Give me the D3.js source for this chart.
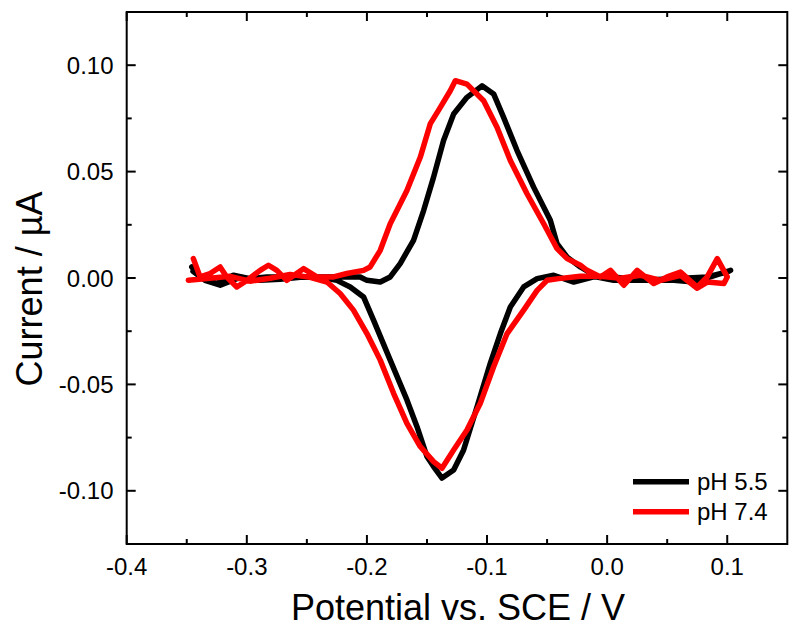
<!DOCTYPE html>
<html>
<head>
<meta charset="utf-8">
<script src="https://cdn.jsdelivr.net/npm/d3@7"></script>
<style>
  html, body { margin: 0; padding: 0; background: #fff; }
  svg text { font-family: "Liberation Sans", Arial, sans-serif; fill: #000; }
</style>
</head>
<body>
<svg id="chart" width="800" height="631"></svg>
<script>
// ---- Data (potential in V vs. SCE, current in µA) ----
const seriesNames = ["pH 5.5", "pH 7.4"];
const seriesColors = ["#000000", "#ff0000"];

const ph55Potential = [
  -0.3458, -0.3389, -0.325, -0.3112, -0.2973, -0.2833, -0.2556, -0.2278, -0.2056, -0.2, -0.1889, -0.1806,
  -0.1723, -0.1612, -0.1528, -0.1445, -0.1362, -0.1278, -0.1167, -0.1042, -0.0945, -0.0862, -0.075,
  -0.0612, -0.0473, -0.0417, -0.0333, -0.0223, -0.0083, 0.0055, 0.0278, 0.0555, 0.0722, 0.0944, 0.1028,
  0.1, 0.0833, 0.0555, 0.0278, 0.0055, -0.0112, -0.0278, -0.0445, -0.0583, -0.0695, -0.0806, -0.0889,
  -0.0973, -0.1083, -0.1195, -0.1278, -0.1375, -0.1445, -0.15, -0.1583, -0.1667, -0.1806, -0.1945,
  -0.2028, -0.2139, -0.225, -0.239, -0.2556, -0.2723, -0.289, -0.3056, -0.3222, -0.3348, -0.3448
];
const ph55Current = [
  0.0052, 0.0005, -0.0026, 0.0013, -0.0003, 0.0005, 0.0005, 0.0005, 0.0005, -0.0011, -0.0019, 0.0005,
  0.0068, 0.0177, 0.0317, 0.0474, 0.0646, 0.0771, 0.0849, 0.0903, 0.0865, 0.0755, 0.0599,
  0.0427, 0.0271, 0.0161, 0.0098, 0.0052, 0.0005, -0.0011, -0.0011, -0.0011, -0.0019, 0.0021, 0.0036,
  0.0028, 0.0005, -0.0003, -0.0011, 0.0005, 0.0005, -0.0019, 0.0013, -0.0003, -0.0042, -0.0136, -0.0261,
  -0.0401, -0.0605, -0.0808, -0.0902, -0.094, -0.0886, -0.0839, -0.0699, -0.0573, -0.0386, -0.0198,
  -0.0089, -0.0042, -0.0011, 0.0003, 0.0003, -0.0006, -0.0011, 0.0003, -0.0034, -0.0011, 0.0031
];

const ph74Potential = [
  -0.3445, -0.3389, -0.3306, -0.3222, -0.3167, -0.3083, -0.3, -0.2889, -0.282, -0.275, -0.2667, -0.2528,
  -0.2417, -0.2278, -0.2167, -0.2028, -0.1973, -0.1889, -0.1806, -0.1667, -0.1556, -0.1473, -0.1389,
  -0.1306, -0.1264, -0.1167, -0.1028, -0.0917, -0.0806, -0.0667, -0.0528, -0.0417, -0.0333, -0.0223,
  -0.0167, -0.0056, 0.0028, 0.0139, 0.025, 0.0388, 0.05, 0.0611, 0.075, 0.0833, 0.0917, 0.1,
  0.0972, 0.0833, 0.075, 0.0611, 0.0444, 0.0278, 0.0111, -0.0056, -0.0223, -0.0403, -0.05, -0.0583,
  -0.0695, -0.0833, -0.0945, -0.1056, -0.1167, -0.1278, -0.1375, -0.1445, -0.1556, -0.1667, -0.1778,
  -0.1889, -0.2, -0.2112, -0.2223, -0.2333, -0.2473, -0.264, -0.2806, -0.2973, -0.314, -0.3306, -0.3487
];
const ph74Current = [
  0.0091, 0.0005, 0.0021, 0.0052, 0.0005, -0.0042, -0.0011, 0.0036, 0.006, 0.0036, -0.0011, 0.0044,
  0.0005, 0.0005, 0.0021, 0.0036, 0.0052, 0.013, 0.0255, 0.0411, 0.0567, 0.0724, 0.0802,
  0.088, 0.0927, 0.0911, 0.0833, 0.0708, 0.0552, 0.0396, 0.0255, 0.0138, 0.0091, 0.006,
  0.0036, 0.0005, 0.0036, -0.0034, 0.0036, -0.0026, 0.0005, 0.0028, -0.0042, 0.0005, 0.0091, 0.0005,
  -0.0026, -0.0019, -0.0048, 0.0013, -0.0011, 0.0013, -0.0001, 0.0008, 0.0008, -0.0003, -0.0011, -0.0058,
  -0.0151, -0.0261, -0.0417, -0.0589, -0.0714, -0.0808, -0.0894, -0.0863, -0.0792, -0.0683, -0.0542,
  -0.0386, -0.0261, -0.0151, -0.0073, -0.0019, 0.0003, 0.0017, -0.0001, -0.0015, 0.0008, -0.0001, -0.0011
];

const xMajorTicks = [-0.4, -0.3, -0.2, -0.1, 0.0, 0.1];
const xMinorTicks = [-0.35, -0.25, -0.15, -0.05, 0.05];
const yMajorTicks = [-0.10, -0.05, 0.00, 0.05, 0.10];
const yMinorTicks = [-0.125, -0.075, -0.025, 0.025, 0.075, 0.125];
const xTitle = "Potential vs. SCE / V";
const yTitle = "Current / \u00b5A";

// ---- Layout ----
const svg = d3.select("#chart");
const L = 126.7, R = 787.3, T = 12, B = 544;
const x = d3.scaleLinear().domain([-0.4, 0.15]).range([L, R]);
const y = d3.scaleLinear().domain([-0.125, 0.125]).range([B, T]);

const majorLen = 9, minorLen = 5;

// Frame
svg.append("rect")
  .attr("x", L).attr("y", T).attr("width", R - L).attr("height", B - T)
  .attr("fill", "none").attr("stroke", "#000").attr("stroke-width", 2);

// Ticks (inward on all four sides)
const tickG = svg.append("g").attr("stroke", "#000").attr("stroke-width", 2);
function xTick(v, len) {
  tickG.append("line").attr("x1", x(v)).attr("x2", x(v)).attr("y1", B).attr("y2", B - len);
  tickG.append("line").attr("x1", x(v)).attr("x2", x(v)).attr("y1", T).attr("y2", T + len);
}
function yTick(v, len) {
  tickG.append("line").attr("y1", y(v)).attr("y2", y(v)).attr("x1", L).attr("x2", L + len);
  tickG.append("line").attr("y1", y(v)).attr("y2", y(v)).attr("x1", R).attr("x2", R - len);
}
xMajorTicks.forEach(v => xTick(v, majorLen));
xMinorTicks.forEach(v => xTick(v, minorLen));
yMajorTicks.forEach(v => yTick(v, majorLen));
yMinorTicks.forEach(v => yTick(v, minorLen));

// Tick labels
svg.append("g").selectAll("text").data(xMajorTicks).join("text")
  .attr("x", d => x(d)).attr("y", 575)
  .attr("text-anchor", "middle").attr("font-size", 24)
  .text(d => d3.format(".1f")(d).replace("\u2212", "-"));
svg.append("g").selectAll("text").data(yMajorTicks).join("text")
  .attr("x", 113.5).attr("y", d => y(d) + 8.5)
  .attr("text-anchor", "end").attr("font-size", 24)
  .text(d => d3.format(".2f")(d).replace("\u2212", "-"));

// Axis titles
svg.append("text").attr("x", 458).attr("y", 620)
  .attr("text-anchor", "middle").attr("font-size", 36).text(xTitle);
svg.append("text").attr("transform", "translate(42,289) rotate(-90)")
  .attr("text-anchor", "middle").attr("font-size", 36).text(yTitle);

// Curves
const line = d3.line().x(d => x(d[0])).y(d => y(d[1]));
const series = [
  d3.zip(ph55Potential, ph55Current),
  d3.zip(ph74Potential, ph74Current)
];
series.forEach((pts, k) => {
  svg.append("path").datum(pts)
    .attr("d", line)
    .attr("fill", "none")
    .attr("stroke", seriesColors[k])
    .attr("stroke-width", 5.5)
    .attr("stroke-linejoin", "round")
    .attr("stroke-linecap", "round");
});

// Legend
const legend = svg.append("g");
seriesNames.forEach((name, k) => {
  const ly = 481.7 + k * 30;
  legend.append("line").attr("x1", 633).attr("x2", 689).attr("y1", ly).attr("y2", ly)
    .attr("stroke", seriesColors[k]).attr("stroke-width", 5.5);
  legend.append("text").attr("x", 697).attr("y", ly + 8.5)
    .attr("font-size", 24).text(name);
});
</script>
</body>
</html>
